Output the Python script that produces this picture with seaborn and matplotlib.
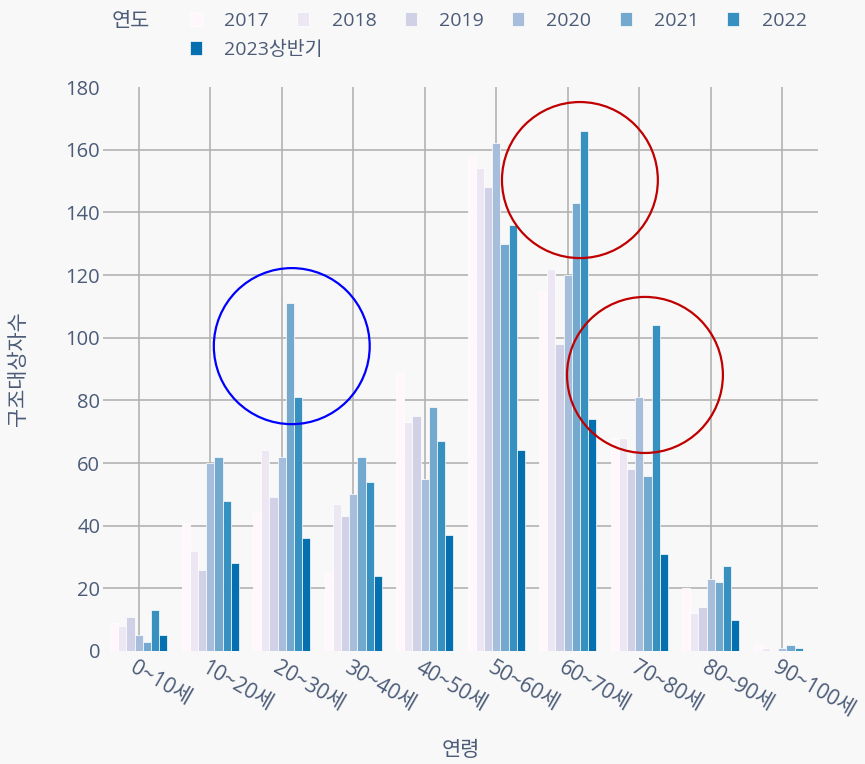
import numpy as np
import pandas as pd
import matplotlib
matplotlib.use("Agg")
import matplotlib.pyplot as plt
import seaborn as sns
from matplotlib.patches import Ellipse, Patch
import matplotlib.transforms as mtransforms

# ---- data ----
ages = ['0~10세', '10~20세', '20~30세', '30~40세', '40~50세',
        '50~60세', '60~70세', '70~80세', '80~90세', '90~100세']
years = ['2017', '2018', '2019', '2020', '2021', '2022', '2023상반기']
v2017 = [9, 41, 44, 25, 89, 158, 115, 68, 20, 2]
v2018 = [8, 32, 64, 47, 73, 154, 122, 68, 12, 1]
v2019 = [11, 26, 49, 43, 75, 148, 98, 58, 14, 0]
v2020 = [5, 60, 62, 50, 55, 162, 120, 81, 23, 1]
v2021 = [3, 62, 111, 62, 78, 130, 143, 56, 22, 2]
v2022 = [13, 48, 81, 54, 67, 136, 166, 104, 27, 1]
v2023h1 = [5, 28, 36, 24, 37, 64, 74, 31, 10, 0]
yticks = [0, 20, 40, 60, 80, 100, 120, 140, 160, 180]

colors = ['#fff7fb', '#ece7f2', '#d0d1e6', '#a6bddb', '#74a9cf', '#3690c0', '#0570b0']
series = [v2017, v2018, v2019, v2020, v2021, v2022, v2023h1]
df = pd.DataFrame([(a, y, v) for y, vals in zip(years, series) for a, v in zip(ages, vals)],
                  columns=['연령', '연도', '구조대상자수'])

# ---- style ----
sns.set_theme(style='white')
plt.rcParams['font.family'] = ['Open Sans', 'Noto Sans CJK KR', 'DejaVu Sans']
txt = '#4b5b78'
bg = '#f8f8f8'

W, H = 865, 764
fig = plt.figure(figsize=(W / 100, H / 100), dpi=100, facecolor=bg)
L, R, T, B = 103, 818, 87, 651
ax = fig.add_axes([L / W, 1 - B / H, (R - L) / W, (B - T) / H])
ax.set_facecolor(bg)

sns.barplot(data=df, x='연령', y='구조대상자수', hue='연도', order=ages, hue_order=years,
            palette=colors, saturation=1, width=0.8, edgecolor='white', linewidth=0.5,
            errorbar=None, ax=ax, legend=False, zorder=3)

ax.set_xlim(-0.5, len(ages) - 0.5)
ax.set_ylim(0, 180)
ax.set_yticks(yticks)
for s in ax.spines.values():
    s.set_visible(False)
ax.grid(True, color='#b3b3b3', linewidth=1.2, zorder=0)
ax.set_axisbelow(True)
gl = ax.yaxis.get_gridlines()
gl[-1].set_visible(False)
ax.axhline(0, color='white', linewidth=2, zorder=2)

ax.tick_params(axis='both', length=0, colors=txt)
ax.tick_params(axis='y', pad=2, labelsize=14.5)
ax.tick_params(axis='x', pad=11, labelsize=15)
ax.set_xticks(range(len(ages)))
ax.set_xticklabels(ages, rotation=-30, ha='left', va='center', rotation_mode='anchor')
off = mtransforms.ScaledTranslation(-7 / 100, 0, fig.dpi_scale_trans)
for lab in ax.get_xticklabels():
    lab.set_transform(lab.get_transform() + off)

ax.set_xlabel('연령', fontsize=15, color=txt, labelpad=14)
ax.set_ylabel('구조대상자수', fontsize=15, color=txt, labelpad=26)

# annotation circles (data coords)
ax.add_patch(Ellipse((2.14, 97.3), 2.18, 49.8, fill=False, edgecolor='#0000ff', linewidth=1.6,
                     zorder=5, clip_on=False))
ax.add_patch(Ellipse((6.17, 150.3), 2.18, 49.8, fill=False, edgecolor='#c00000', linewidth=1.6,
                     zorder=5, clip_on=False))
ax.add_patch(Ellipse((7.08, 88.1), 2.18, 49.8, fill=False, edgecolor='#c00000', linewidth=1.6,
                     zorder=5, clip_on=False))

# legend
fig.text(112 / W, 1 - 21 / H, '연도', fontsize=15, color=txt, ha='left', va='center')
handles = [Patch(facecolor=c, edgecolor='white', linewidth=0.5) for c in colors]
kw = dict(frameon=False, fontsize=14, labelcolor=txt, handlelength=0.62, handleheight=0.75,
          handletextpad=1.15, borderpad=0, borderaxespad=0)
leg1 = fig.legend(handles[:6], years[:6], ncol=6, loc='center left',
                  bbox_to_anchor=(190 / W, 1 - 21 / H), columnspacing=1.45, **kw)
leg2 = fig.legend(handles[6:], years[6:], ncol=1, loc='center left',
                  bbox_to_anchor=(190 / W, 1 - 50 / H), **kw)

fig.savefig('out.png', dpi=100, facecolor=bg)
